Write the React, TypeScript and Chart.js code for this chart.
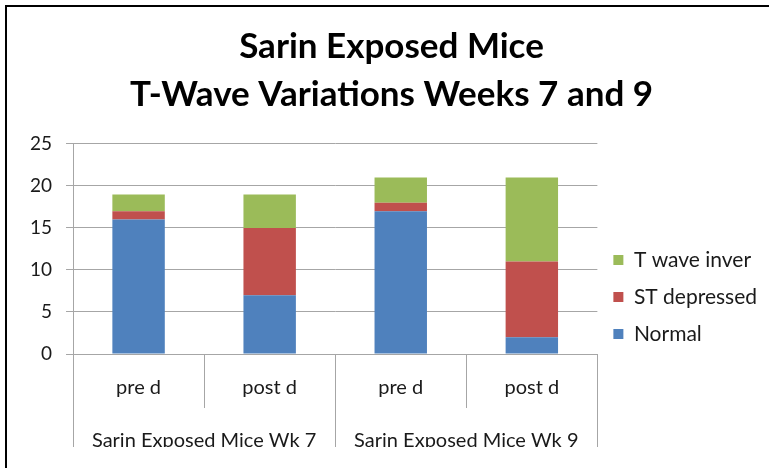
import React, { useEffect, useRef } from "react";
import { Chart, registerables } from "chart.js";

Chart.register(...registerables);

const titleLines = ["Sarin Exposed Mice", "T-Wave Variations Weeks 7 and 9"];
const categories = ["pre d", "post d", "pre d", "post d"];
const groups = ["Sarin Exposed Mice Wk 7", "Sarin Exposed Mice Wk 9"];
const normal = [16, 7, 17, 2];
const stDepressed = [1, 8, 1, 9];
const tWaveInver = [2, 4, 3, 10];
const seriesNames = ["Normal", "ST depressed", "T wave inver"];
const seriesColors = ["#4F81BD", "#C0504D", "#9BBB59"];
const yMin = 0;
const yMax = 25;
const yStep = 5;

const FONT = "Lato, 'Open Sans', sans-serif";
const GRID = "#A6A6A6";
const TEXT = "#1a1a1a";

const frame = {
  id: "frame",
  afterDraw(chart: any) {
    const ctx = chart.ctx;
    ctx.save();
    ctx.strokeStyle = "#000";
    ctx.lineWidth = 2;
    ctx.beginPath();
    ctx.moveTo(6, chart.height + 5);
    ctx.lineTo(6, 6);
    ctx.lineTo(chart.width + 5, 6);
    ctx.stroke();
    ctx.restore();
  },
};

const separators = {
  id: "separators",
  afterDraw(chart: any) {
    const x = chart.scales.x;
    const x2 = chart.scales.x2;
    const ctx = chart.ctx;
    const n = categories.length;
    const step = x.getPixelForValue(1) - x.getPixelForValue(0);
    const start = x.getPixelForValue(0) - step / 2;
    const per = n / groups.length;
    ctx.save();
    ctx.strokeStyle = GRID;
    ctx.lineWidth = 1;
    for (let i = 0; i <= n; i++) {
      const px = Math.round(start + i * step) + 0.5;
      const yEnd = i % per === 0 ? x2.bottom : x.bottom;
      ctx.beginPath();
      ctx.moveTo(px, chart.chartArea.bottom);
      ctx.lineTo(px, yEnd);
      ctx.stroke();
    }
    ctx.restore();
  },
};

const noSidePad = (s: any, h: number) => {
  s.height = h;
  s.paddingLeft = 0;
  s.paddingRight = 0;
};

export default function App() {
  const ref = useRef<HTMLCanvasElement>(null);
  useEffect(() => {
    if (!ref.current) return;
    const data = [normal, stDepressed, tWaveInver];
    const chart = new Chart(ref.current, {
      type: "bar",
      data: {
        labels: categories,
        datasets: data.map((d, i) => ({
          label: seriesNames[i],
          data: d,
          backgroundColor: seriesColors[i],
          borderWidth: 0,
          barPercentage: 0.4,
          categoryPercentage: 1,
        })),
      },
      options: {
        animation: false,
        responsive: true,
        maintainAspectRatio: false,
        layout: { padding: { left: 16, right: 2, top: 0, bottom: 21 } },
        plugins: {
          title: {
            display: true,
            text: titleLines,
            color: "#000",
            font: { family: FONT, size: 35, weight: "bold", lineHeight: 1.371 },
            padding: { top: 23, bottom: 25 },
          },
          legend: {
            position: "right",
            reverse: true,
            title: {
              display: true,
              text: " ",
              font: { size: 1, lineHeight: 1 },
              padding: { top: 146, bottom: 0 },
            },
            labels: {
              boxWidth: 10,
              boxHeight: 10,
              padding: 16,
              color: TEXT,
              font: { family: FONT, size: 21 },
            },
          },
          tooltip: { enabled: false },
        },
        scales: {
          x: {
            stacked: true,
            grid: { display: false },
            border: { display: false },
            ticks: {
              color: TEXT,
              font: { family: FONT, size: 20 },
              padding: 14,
            },
            afterFit: (s: any) => noSidePad(s, 54),
          },
          x2: {
            type: "category",
            labels: groups,
            position: "bottom",
            offset: true,
            grid: { display: false },
            border: { display: false },
            ticks: {
              color: TEXT,
              font: { family: FONT, size: 20 },
              padding: 13,
            },
            afterFit: (s: any) => noSidePad(s, 39),
          },
          y: {
            stacked: true,
            min: yMin,
            max: yMax,
            ticks: {
              stepSize: yStep,
              color: TEXT,
              font: { family: FONT, size: 19 },
              padding: 14,
            },
            grid: { color: GRID, tickLength: 7, drawTicks: true },
            border: { display: true, color: GRID },
          },
        },
      },
      plugins: [frame, separators],
    });
    return () => chart.destroy();
  }, []);
  return (
    <div style={{ position: "absolute", left: 0, top: 0, width: 769, height: 468, background: "#fff" }}>
      <canvas ref={ref} />
    </div>
  );
}
